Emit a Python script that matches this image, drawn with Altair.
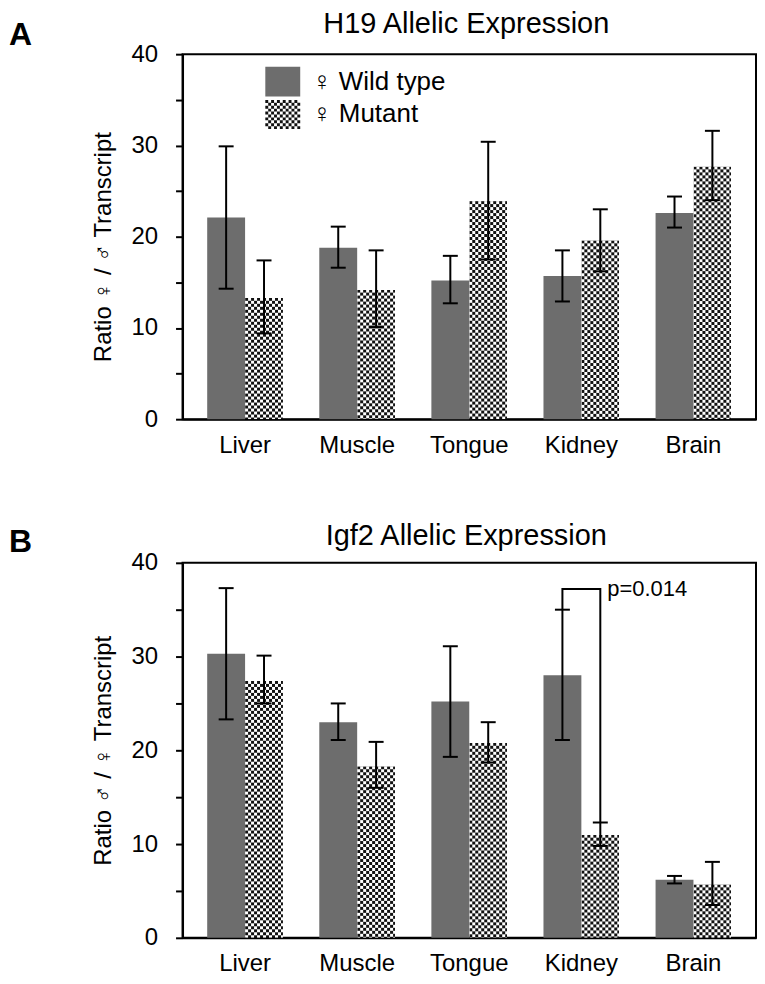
import base64
import altair as alt
import pandas as pd

# ---------------- data ----------------
tissues = ["Liver", "Muscle", "Tongue", "Kidney", "Brain"]
groups = ["♀ Wild type", "♀ Mutant"]

h19_wt = [22.1, 18.8, 15.2, 15.7, 22.6]
h19_wt_lo = [14.3, 16.6, 12.7, 12.9, 21.0]
h19_wt_hi = [29.9, 21.1, 17.9, 18.5, 24.4]
h19_mut = [13.3, 14.2, 23.9, 19.6, 27.7]
h19_mut_lo = [9.4, 10.1, 17.5, 16.2, 24.0]
h19_mut_hi = [17.4, 18.5, 30.4, 23.0, 31.6]

igf2_wt = [30.3, 23.0, 25.2, 28.0, 6.2]
igf2_wt_lo = [23.3, 21.1, 19.3, 21.1, 5.8]
igf2_wt_hi = [37.3, 25.0, 31.1, 35.0, 6.6]
igf2_mut = [27.4, 18.3, 20.8, 11.0, 5.7]
igf2_mut_lo = [25.0, 16.0, 18.7, 9.8, 3.5]
igf2_mut_hi = [30.1, 20.9, 23.0, 12.3, 8.1]

bracket_tissue = "Kidney"
bracket_top = 37.2
p_label = "p=0.014"

titles = ["H19 Allelic Expression", "Igf2 Allelic Expression"]
ytitles = ["Ratio ♀ / ♂ Transcript", "Ratio ♂ / ♀ Transcript"]
letters = ["A", "B"]
y_ticks = [0, 5, 10, 15, 20, 25, 30, 35, 40]

# ---------------- style ----------------
FONT = "Liberation Sans"
GRAY = "#6d6d6d"
WIDTH = 575

checker_svg = (
    "<svg xmlns='http://www.w3.org/2000/svg' width='100%' height='100%'>"
    "<defs><pattern id='c' width='6' height='6' patternUnits='userSpaceOnUse'>"
    "<rect width='6' height='6' fill='#ffffff'/>"
    "<path d='M0 0h3v3H0zM3 3h3v3H3z' fill='#111111'/></pattern></defs>"
    "<rect width='100%' height='100%' fill='url(#c)'/></svg>"
)
CHECKER_URI = "data:image/svg+xml;base64," + base64.b64encode(checker_svg.encode()).decode()

# legend swatch shapes (unit space -1..1)
RECT_PATH = "M-1,-0.857H1V0.857H-1Z"
cell = 1 / 6
parts = []
for r in range(10):
    for c in range(12):
        if (r + c) % 2 == 0:
            x0 = -1 + c * cell
            y0 = -5 / 6 + r * cell
            parts.append(f"M{x0:.4f},{y0:.4f}h{cell:.4f}v{cell:.4f}h{-cell:.4f}Z")
CHECKER_PATH = "".join(parts)


def make_df(wt, wt_lo, wt_hi, mut, mut_lo, mut_hi):
    recs = []
    for i, t in enumerate(tissues):
        recs.append(dict(tissue=t, group=groups[0], value=wt[i], lo=wt_lo[i], hi=wt_hi[i]))
        recs.append(dict(tissue=t, group=groups[1], value=mut[i], lo=mut_lo[i], hi=mut_hi[i]))
    return pd.DataFrame(recs)


def panel(df, title, ytitle, height, letter, letter_y, title_y, ytitle_shift,
          with_legend=False, bracket=None):
    x_enc = alt.X(
        "tissue:N",
        scale=alt.Scale(domain=tissues, paddingInner=0.324, paddingOuter=0.22),
        axis=alt.Axis(title=None, ticks=False, labelAngle=0, labelPadding=14),
    )
    xo_enc = alt.XOffset("group:N",
                         scale=alt.Scale(domain=groups, paddingInner=0, paddingOuter=0))
    y_scale = alt.Scale(domain=[0, 40], nice=False, zero=True)
    y_axis = alt.Axis(
        title=ytitle, values=y_ticks,
        labelExpr="datum.value % 10 === 0 ? datum.label : ''",
        tickSize=7, labelPadding=18, titlePadding=16,
        titleY=height / 2 + ytitle_shift,
    )

    base = alt.Chart(df).encode(x=x_enc, xOffset=xo_enc)

    bars = base.transform_filter(alt.datum.group == groups[0]).mark_bar(color=GRAY).encode(
        y=alt.Y("value:Q", scale=y_scale, axis=y_axis)
    )
    img = base.transform_filter(alt.datum.group == groups[1]).mark_image(aspect=False).encode(
        y=alt.Y("value:Q", scale=y_scale, axis=y_axis),
        y2=alt.datum(0),
        url=alt.value(CHECKER_URI),
    )
    rules = base.mark_rule(color="black", strokeWidth=2).encode(
        y=alt.Y("lo:Q", scale=y_scale, axis=y_axis), y2="hi:Q"
    )
    caps_lo = base.mark_tick(color="black", thickness=2, size=15, opacity=1).encode(
        y=alt.Y("lo:Q", scale=y_scale, axis=y_axis)
    )
    caps_hi = base.mark_tick(color="black", thickness=2, size=15, opacity=1).encode(
        y=alt.Y("hi:Q", scale=y_scale, axis=y_axis)
    )
    letter_layer = alt.Chart(pd.DataFrame({"t": [letter]})).mark_text(
        font=FONT, fontSize=32, fontWeight="bold", align="left",
        baseline="alphabetic", color="black",
    ).encode(text="t:N", x=alt.value(-174), y=alt.value(letter_y))
    title_layer = alt.Chart(pd.DataFrame({"t": [title]})).mark_text(
        font=FONT, fontSize=29, align="center",
        baseline="alphabetic", color="black",
    ).encode(text="t:N", x=alt.value(WIDTH / 2 - 3), y=alt.value(title_y))

    layers = [bars, img, rules, caps_lo, caps_hi, letter_layer, title_layer]

    if with_legend:
        leg = alt.Legend(
            title=None, orient="none", legendX=83, legendY=10,
            symbolSize=1225, symbolStrokeWidth=0, symbolOpacity=1,
            labelFontSize=26, labelFont=FONT, labelColor="black",
            labelOffset=12, rowPadding=0, padding=0, direction="vertical",
        )
        pts = base.transform_filter("false").mark_point(filled=True, opacity=1).encode(
            y=alt.Y("value:Q", scale=y_scale, axis=y_axis),
            color=alt.Color("group:N", scale=alt.Scale(domain=groups, range=[GRAY, "#111111"]),
                            legend=leg),
            shape=alt.Shape("group:N",
                            scale=alt.Scale(domain=groups, range=[RECT_PATH, CHECKER_PATH]),
                            legend=leg),
        )
        layers.append(pts)

    if bracket is not None:
        bdf = pd.DataFrame(bracket)
        bline = alt.Chart(bdf).mark_line(color="black", strokeWidth=2, strokeJoin="miter").encode(
            x=x_enc, xOffset=xo_enc,
            y=alt.Y("y:Q", scale=y_scale, axis=y_axis),
            order="ord:Q",
        )
        btext = alt.Chart(bdf.iloc[[2]]).mark_text(
            font=FONT, fontSize=22, align="left", baseline="middle", dx=7, color="black"
        ).encode(
            x=x_enc, xOffset=xo_enc,
            y=alt.Y("y:Q", scale=y_scale, axis=y_axis),
            text=alt.value(p_label),
        )
        layers += [bline, btext]

    return alt.layer(*layers).properties(width=WIDTH, height=height)


df_a = make_df(h19_wt, h19_wt_lo, h19_wt_hi, h19_mut, h19_mut_lo, h19_mut_hi)
df_b = make_df(igf2_wt, igf2_wt_lo, igf2_wt_hi, igf2_mut, igf2_mut_lo, igf2_mut_hi)

k = tissues.index(bracket_tissue)
bracket = {
    "tissue": [bracket_tissue] * 4,
    "group": [groups[0], groups[0], groups[1], groups[1]],
    "y": [igf2_wt_hi[k], bracket_top, bracket_top, igf2_mut_hi[k]],
    "ord": [0, 1, 2, 3],
}

chart_a = panel(df_a, titles[0], ytitles[0], 366, letters[0], -9.5, -21, 10, with_legend=True)
chart_b = panel(df_b, titles[1], ytitles[1], 376, letters[1], -11, -18, 0, bracket=bracket)

chart = alt.vconcat(chart_a, chart_b, spacing=63).properties(
    padding={"left": 0, "top": 0, "right": 0, "bottom": 0}
).configure_view(
    stroke="black", strokeWidth=2
).configure_axis(
    domainColor="black", domainWidth=2, tickColor="black", tickWidth=2,
    labelFont=FONT, labelFontSize=24, labelColor="black",
    titleFont=FONT, titleFontSize=24, titleFontWeight="normal", titleColor="black",
    grid=False,
)

chart.save("out.html", embed_options={"renderer": "svg", "actions": False})
